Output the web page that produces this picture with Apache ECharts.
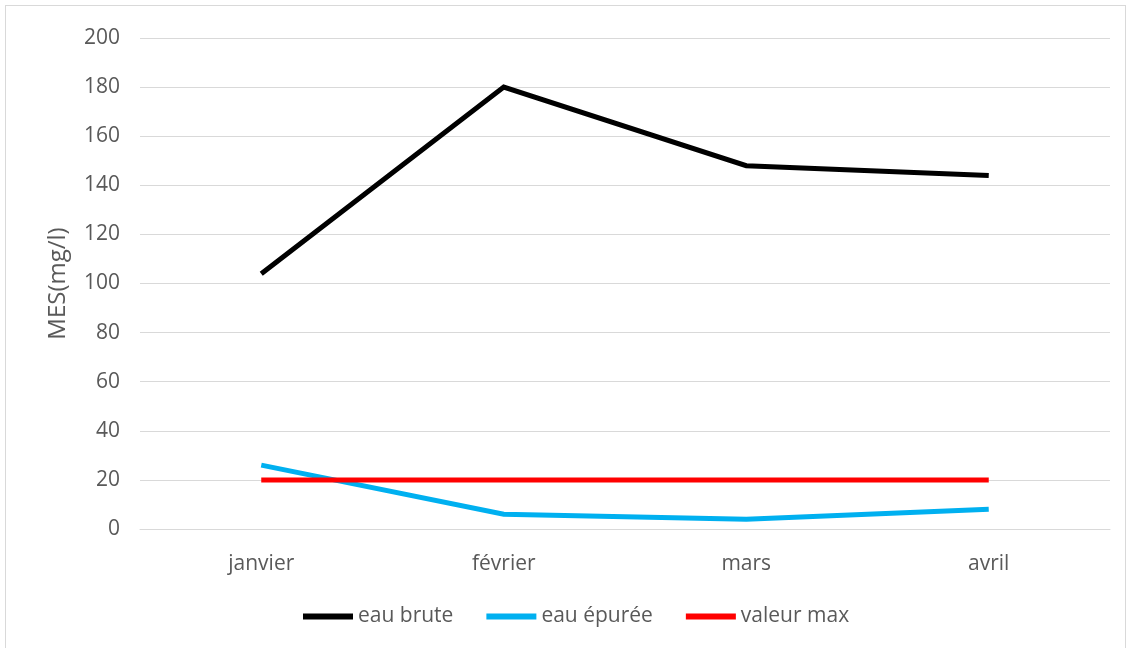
<!DOCTYPE html>
<html>
<head>
<meta charset="utf-8">
<script src="https://cdn.jsdelivr.net/npm/echarts@6/dist/echarts.min.js"></script>
<style>
  html, body { margin: 0; padding: 0; background: #fff; }
  #frame { position: absolute; left: 5px; top: 5px; width: 1121px; height: 650px; border: 1px solid #d9d9d9; box-sizing: border-box; }
  #chart { width: 1131px; height: 648px; }
</style>
</head>
<body>
<div id="frame"></div>
<div id="chart"></div>
<script>
// Monthly MES measurements (mg/l)
const months = ['janvier', 'février', 'mars', 'avril'];
const eauBrute = [104, 180, 148, 144];
const eauEpuree = [26, 6, 4, 8];
const valeurMax = [20, 20, 20, 20];
const yTicks = { min: 0, max: 200, interval: 20 };

const font = '"Open Sans", "Liberation Sans", sans-serif';
const textColor = '#595959';

const chart = echarts.init(document.getElementById('chart'), null, { renderer: 'canvas' });

function lineSeries(name, data, color) {
  return {
    name: name,
    type: 'line',
    data: data,
    symbol: 'none',
    lineStyle: { color: color, width: 5, cap: 'butt', join: 'miter' },
    itemStyle: { color: color },
    animation: false
  };
}

chart.setOption({
  backgroundColor: 'transparent',
  grid: { left: 140, right: 21, top: 38, bottom: 119, containLabel: false },
  xAxis: {
    type: 'category',
    data: months,
    boundaryGap: true,
    axisLine: { show: true, lineStyle: { color: '#d9d9d9', width: 1 } },
    axisTick: { show: false },
    axisLabel: { color: textColor, fontFamily: font, fontSize: 21, margin: 25 }
  },
  yAxis: {
    type: 'value',
    min: yTicks.min,
    max: yTicks.max,
    interval: yTicks.interval,
    name: 'MES(mg/l)',
    nameLocation: 'middle',
    nameGap: 70,
    nameTextStyle: { color: textColor, fontFamily: font, fontSize: 24 },
    axisLine: { show: false },
    axisTick: { show: false },
    axisLabel: { color: textColor, fontFamily: font, fontSize: 21, margin: 20 },
    splitLine: { lineStyle: { color: '#d9d9d9', width: 1 } }
  },
  legend: {
    bottom: 16,
    left: 298,
    itemWidth: 50,
    itemHeight: 6,
    itemGap: 33,
    icon: 'rect',
    textStyle: { color: textColor, fontFamily: font, fontSize: 21, padding: [0, 0, 0, 0] },
    data: ['eau brute', 'eau épurée', 'valeur max']
  },
  series: [
    lineSeries('eau brute', eauBrute, '#000000'),
    lineSeries('eau épurée', eauEpuree, '#00b0f0'),
    lineSeries('valeur max', valeurMax, '#ff0000')
  ]
});
</script>
</body>
</html>
